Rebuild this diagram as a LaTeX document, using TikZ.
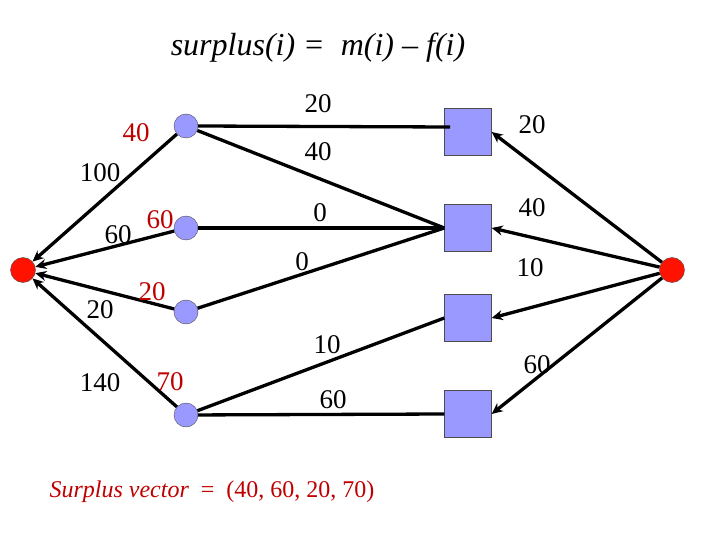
\documentclass[tikz,border=0pt]{standalone}
\usepackage{fontspec}
\setmainfont{Liberation Serif}
\usetikzlibrary{arrows.meta}
\begin{document}
\begin{tikzpicture}[x=1pt,y=-1pt,
  src/.style={circle,draw=black!70,fill=red!85!orange,minimum size=25,inner sep=0},
  mid/.style={circle,draw=black!70,fill=blue!40!white,minimum size=24,inner sep=0},
  sq/.style={rectangle,draw=black!70,fill=blue!40!white,minimum size=47,inner sep=0},
  e/.style={line width=3.3pt},
  a/.style={e,-{Stealth[length=11pt,width=10pt]}},
  lb/.style={font=\fontsize{27}{29}\selectfont},
  rl/.style={lb,text=red!75!black}]
\useasboundingbox (0,0) rectangle (720,540);
\node[font=\itshape\fontsize{32}{34}\selectfont] (t) at (318,48) {surplus(i) = \ m(i) – f(i)};
\node[src] (L) at (23,270) {};
\node[src] (R) at (672,270) {};
\node[mid] (c1) at (186,126) {};
\node[mid] (c2) at (186,228) {};
\node[mid] (c3) at (186,312) {};
\node[mid] (c4) at (186,415) {};
\node[sq] (s1) at (468,132) {};
\node[sq] (s2) at (468,228) {};
\node[sq] (s3) at (468,318) {};
\node[sq] (s4) at (468,414) {};
\coordinate (s1in) at (450,127);
\foreach \c in {c1,c2,c3,c4} \draw[a] (\c) -- (L);
\foreach \s in {s1,s2,s3,s4} \draw[a] (R) -- (\s.east);
\draw[e] (c1.east) -- (s1in);
\draw[e] (c1) -- (s2.west);
\draw[e] (c2) -- (s2.west);
\draw[e] (c3) -- (s2.west);
\draw[e] (c4) -- (s3.west);
\draw[e] (c4) -- (s4.west);
\node[lb] (m1) at (318,104) {20};
\node[lb] (m2) at (318,152) {40};
\node[lb] (m3) at (320,213) {0};
\node[lb] (m4) at (302,262) {0};
\node[lb] (m5) at (327,345) {10};
\node[lb] (m6) at (333,400) {60};
\node[lb] (r1) at (532,125) {20};
\node[lb] (r2) at (532,208) {40};
\node[lb] (r3) at (530,268) {10};
\node[lb] (r4) at (537,365) {60};
\node[lb] (l1) at (100,173) {100};
\node[lb] (l2) at (118,235) {60};
\node[lb] (l3) at (100,310) {20};
\node[lb] (l4) at (100,383) {140};
\node[rl] (k1) at (136,133) {40};
\node[rl] (k2) at (160,220) {60};
\node[rl] (k3) at (152,292) {20};
\node[rl] (k4) at (170,382) {70};
\node[text=red!75!black,font=\fontsize{24}{26}\selectfont,anchor=west] (sv) at (46,492) {\textit{Surplus vector} \ = \ (40, 60, 20, 70)};
\end{tikzpicture}
\end{document}
